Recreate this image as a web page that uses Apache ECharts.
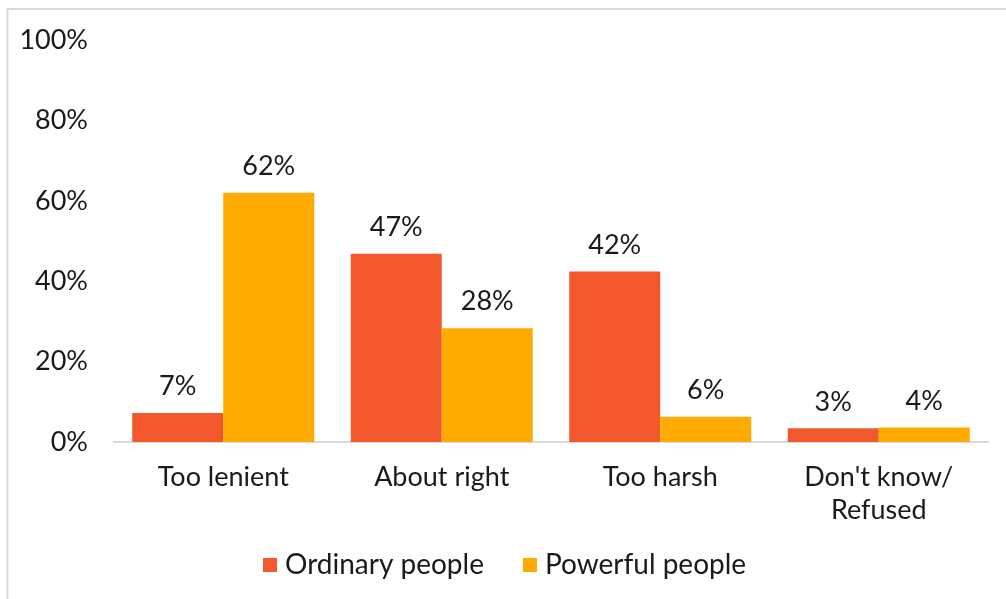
<!DOCTYPE html>
<html>
<head>
<meta charset="utf-8">
<script src="https://cdn.jsdelivr.net/npm/echarts@6/dist/echarts.min.js"></script>
<style>
html,body{margin:0;padding:0;background:#fff;}
#c{width:1006px;height:599px;}
</style>
</head>
<body>
<div id="c"></div>
<script>
const categories = ['Too lenient', 'About right', 'Too harsh', "Don't know/\nRefused"];
const ordinary = [7.2, 46.8, 42.4, 3.4];
const powerful = [62, 28.3, 6.3, 3.6];
const seriesNames = ['Ordinary people', 'Powerful people'];
const yTicks = [0, 20, 40, 60, 80, 100];

const FONT = 'Lato';
const FS = 27;
const chart = echarts.init(document.getElementById('c'));
const lbl = {
  show: true, position: 'top', distance: 13,
  color: '#1a1a1a', fontSize: FS, fontFamily: FONT,
  formatter: p => Math.round(p.value) + '%'
};
chart.setOption({
  animation: false,
  graphic: [{
    type: 'rect', shape: {x: 7.5, y: 9, width: 1100, height: 700},
    style: {fill: 'none', stroke: '#d9d9d9', lineWidth: 2}
  }],
  grid: {left: 114, right: 18, top: 40, bottom: 157, containLabel: false},
  legend: {
    data: seriesNames, bottom: 15, left: 258,
    itemWidth: 14, itemHeight: 14, itemGap: 39, icon: 'rect',
    textStyle: {fontSize: 28, fontFamily: FONT, color: '#1a1a1a', padding: [0,0,0,3], width: 212, overflow: 'none'}
  },
  xAxis: {
    type: 'category', data: categories,
    axisLine: {lineStyle: {color: '#d9d9d9', width: 2}},
    axisTick: {show: false},
    axisLabel: {fontSize: FS, fontFamily: FONT, color: '#1a1a1a', margin: 19, lineHeight: 33, interval: 0}
  },
  yAxis: {
    type: 'value', min: 0, max: 100, interval: 20,
    splitLine: {show: false},
    axisLine: {show: false}, axisTick: {show: false},
    axisLabel: {fontSize: FS, fontFamily: FONT, color: '#1a1a1a', margin: 26, formatter: v => v + '%'}
  },
  series: [
    {name: seriesNames[0], type: 'bar', data: ordinary, barGap: '0%', barCategoryGap: '16.7%',
     itemStyle: {color: '#F2582B'}, label: lbl},
    {name: seriesNames[1], type: 'bar', data: powerful, barGap: '0%', barCategoryGap: '16.7%',
     itemStyle: {color: '#FFAA00'}, label: lbl}
  ]
});
</script>
</body>
</html>
